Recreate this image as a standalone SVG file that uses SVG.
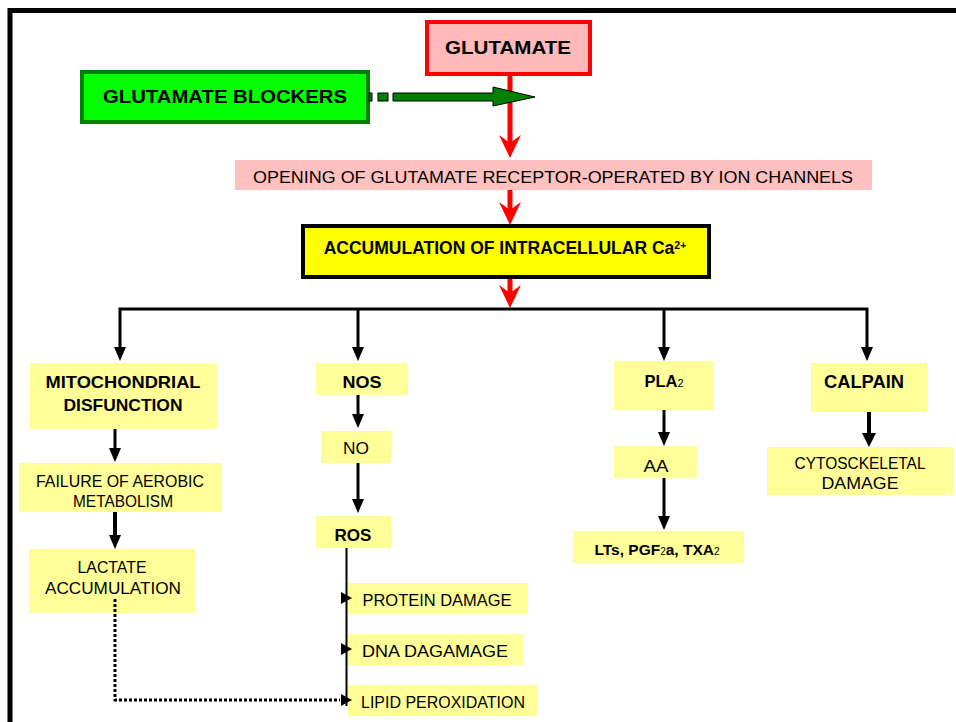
<svg xmlns="http://www.w3.org/2000/svg" width="956" height="722" viewBox="0 0 956 722">
<style>
.t{font-family:"Liberation Sans",Arial,sans-serif;fill:#000;text-anchor:middle}
.b{font-weight:bold}
.ly{fill:#FFFF99}
.blk{stroke:#000;stroke-width:3;fill:none}
.hd{fill:#000}
.red{stroke:#FF0000;stroke-width:5;fill:none}
.rh{fill:#FF0000}
</style>
<rect width="956" height="722" fill="#fff"/>
<path d="M10,722 V10.5 H956" stroke="#000" stroke-width="5" fill="none"/>

<g id="glutamate">
  <rect x="427" y="22" width="163" height="52" fill="#FFB9B9" stroke="#FF0000" stroke-width="4"/>
  <text class="t b" x="508" y="54" font-size="19" textLength="126" lengthAdjust="spacingAndGlyphs">GLUTAMATE</text>
</g>
<g id="blockers">
  <rect x="82" y="72" width="286" height="50" fill="#00FF00" stroke="#008000" stroke-width="4"/>
  <text class="t b" x="225" y="103" font-size="19" textLength="244" lengthAdjust="spacingAndGlyphs">GLUTAMATE BLOCKERS</text>
</g>
<g id="opening">
  <rect x="235" y="160" width="637" height="30" fill="#FFC0C0"/>
  <text class="t" x="553" y="183" font-size="16.5" textLength="600" lengthAdjust="spacingAndGlyphs">OPENING OF GLUTAMATE RECEPTOR-OPERATED BY ION CHANNELS</text>
</g>
<g id="calcium">
  <rect x="303" y="226" width="406" height="51" fill="#FFFF00" stroke="#000" stroke-width="4"/>
  <text class="t b" x="505" y="254" font-size="17.5">ACCUMULATION OF INTRACELLULAR Ca<tspan font-size="10.5" dy="-5.5">2+</tspan></text>
</g>
<g id="mito">
  <rect class="ly" x="30" y="363" width="187" height="66"/>
  <text class="t b" x="123" y="388" font-size="16.5" textLength="155" lengthAdjust="spacingAndGlyphs">MITOCHONDRIAL</text>
  <text class="t b" x="123" y="411" font-size="16.5" textLength="119" lengthAdjust="spacingAndGlyphs">DISFUNCTION</text>
</g>
<g id="failure">
  <rect class="ly" x="19" y="463" width="203" height="49"/>
  <text class="t" x="120" y="487" font-size="16" textLength="168" lengthAdjust="spacingAndGlyphs">FAILURE OF AEROBIC</text>
  <text class="t" x="123" y="507" font-size="16" textLength="100" lengthAdjust="spacingAndGlyphs">METABOLISM</text>
</g>
<g id="lactate">
  <rect class="ly" x="29" y="549" width="166" height="64"/>
  <text class="t" x="112" y="573" font-size="16" textLength="69" lengthAdjust="spacingAndGlyphs">LACTATE</text>
  <text class="t" x="113" y="594" font-size="16" textLength="136" lengthAdjust="spacingAndGlyphs">ACCUMULATION</text>
</g>
<g id="nos">
  <rect class="ly" x="316" y="363" width="92" height="32"/>
  <text class="t b" x="362" y="388" font-size="16.5" textLength="39" lengthAdjust="spacingAndGlyphs">NOS</text>
</g>
<g id="no">
  <rect class="ly" x="321" y="431" width="70" height="32"/>
  <text class="t" x="356" y="454" font-size="16" textLength="26" lengthAdjust="spacingAndGlyphs">NO</text>
</g>
<g id="ros">
  <rect class="ly" x="316" y="516" width="75" height="32"/>
  <text class="t b" x="353" y="541" font-size="16.5" textLength="37" lengthAdjust="spacingAndGlyphs">ROS</text>
</g>
<g id="protein">
  <rect class="ly" x="348" y="583" width="180" height="31"/>
  <text class="t" x="437" y="606" font-size="16" textLength="149" lengthAdjust="spacingAndGlyphs">PROTEIN DAMAGE</text>
</g>
<g id="dna">
  <rect class="ly" x="348" y="634" width="175" height="31"/>
  <text class="t" x="435" y="657" font-size="16" textLength="146" lengthAdjust="spacingAndGlyphs">DNA DAGAMAGE</text>
</g>
<g id="lipid">
  <rect class="ly" x="348" y="685" width="190" height="31"/>
  <text class="t" x="443" y="708" font-size="16" textLength="164" lengthAdjust="spacingAndGlyphs">LIPID PEROXIDATION</text>
</g>
<g id="pla2">
  <rect class="ly" x="614" y="361" width="100" height="49"/>
  <text class="t b" x="664" y="387" font-size="16.5">PLA<tspan font-size="11" font-weight="normal">2</tspan></text>
</g>
<g id="aa">
  <rect class="ly" x="614" y="446" width="83" height="32"/>
  <text class="t" x="656" y="472" font-size="16" textLength="25" lengthAdjust="spacingAndGlyphs">AA</text>
</g>
<g id="lts">
  <rect class="ly" x="573" y="531" width="171" height="32"/>
  <text class="t b" x="657" y="555" font-size="15.5">LTs, PGF<tspan font-size="10" font-weight="normal">2</tspan>a, TXA<tspan font-size="10" font-weight="normal">2</tspan></text>
</g>
<g id="calpain">
  <rect class="ly" x="811" y="363" width="116" height="49"/>
  <text class="t b" x="864" y="388" font-size="17.5" textLength="80" lengthAdjust="spacingAndGlyphs">CALPAIN</text>
</g>
<g id="cyto">
  <rect class="ly" x="767" y="447" width="187" height="48"/>
  <text class="t" x="860" y="469" font-size="16" textLength="131" lengthAdjust="spacingAndGlyphs">CYTOSCKELETAL</text>
  <text class="t" x="860" y="489" font-size="16" textLength="77" lengthAdjust="spacingAndGlyphs">DAMAGE</text>
</g>

<g id="connectors">
  <line class="red" x1="510" y1="76" x2="510" y2="145"/>
  <path class="rh" d="M510,158 L499,135 L510,143 L521,135 Z"/>
  <line class="red" x1="510" y1="190" x2="510" y2="212"/>
  <path class="rh" d="M510,225 L499,202 L510,210 L521,202 Z"/>
  <line class="red" x1="510" y1="279" x2="510" y2="296"/>
  <path class="rh" d="M510,308 L499,285 L510,293 L521,285 Z"/>
  <rect x="369" y="93" width="3" height="8" fill="#008000" stroke="#000" stroke-width="1"/>
  <rect x="378" y="93" width="10" height="8" fill="#008000" stroke="#000" stroke-width="1"/>
  <path d="M393,93 H493 V87 L535,97 L493,106 V101 H393 Z" fill="#008000" stroke="#000" stroke-width="1"/>
  <path class="blk" d="M120,350 V309 H867 V350"/>
  <line class="blk" x1="358" y1="309" x2="358" y2="350"/>
  <line class="blk" x1="664" y1="309" x2="664" y2="350"/>
  <path class="hd" d="M114,347 H126 L120,361 Z"/>
  <path class="hd" d="M352,347 H364 L358,361 Z"/>
  <path class="hd" d="M658,347 H670 L664,361 Z"/>
  <path class="hd" d="M861,347 H873 L867,361 Z"/>
  <line class="blk" x1="115" y1="429" x2="115" y2="450"/>
  <path class="hd" d="M109,448 H121 L115,462 Z"/>
  <line x1="115" y1="512" x2="115" y2="537" stroke="#000" stroke-width="4"/>
  <path class="hd" d="M109,535 H121 L115,549 Z"/>
  <line class="blk" x1="358" y1="395" x2="358" y2="416"/>
  <path class="hd" d="M352,414 H364 L358,428 Z"/>
  <line class="blk" x1="358" y1="463" x2="358" y2="501"/>
  <path class="hd" d="M352,499 H364 L358,513 Z"/>
  <line x1="346.5" y1="548" x2="346.5" y2="706" stroke="#000" stroke-width="2"/>
  <path class="hd" d="M341,592 V604 L352,598 Z"/>
  <path class="hd" d="M341,643 V655 L352,649 Z"/>
  <path class="hd" d="M341,694 V706 L352,700 Z"/>
  <line class="blk" x1="664" y1="410" x2="664" y2="434"/>
  <path class="hd" d="M658,432 H670 L664,446 Z"/>
  <line class="blk" x1="664" y1="478" x2="664" y2="518"/>
  <path class="hd" d="M658,516 H670 L664,530 Z"/>
  <line x1="869" y1="412" x2="869" y2="435" stroke="#000" stroke-width="4"/>
  <path class="hd" d="M862,433 H876 L869,447 Z"/>
  <path d="M115,599 V700 H340" stroke="#000" stroke-width="3" fill="none" stroke-dasharray="3,2"/>
</g>
</svg>
